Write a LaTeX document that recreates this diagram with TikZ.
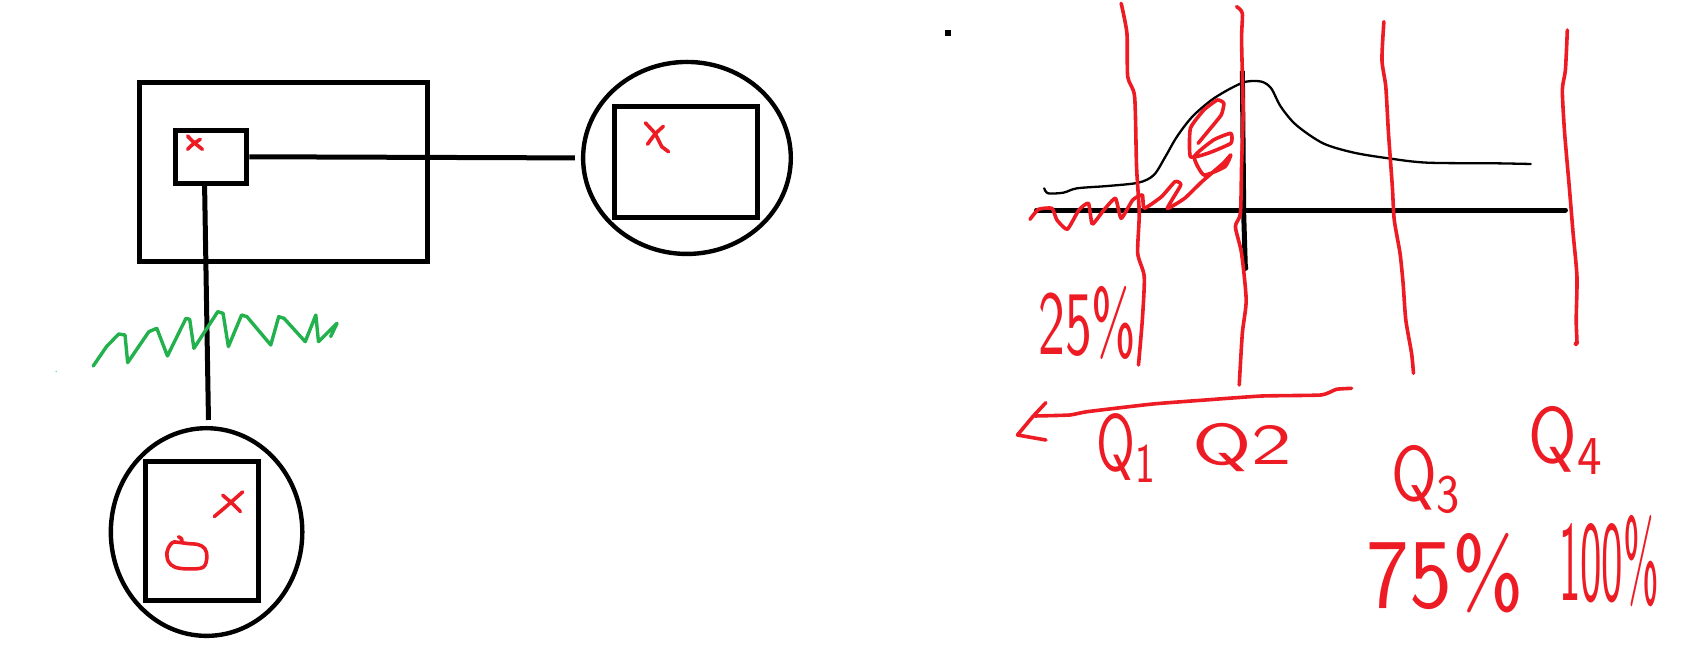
\documentclass[tikz,border=0pt]{standalone}
\usetikzlibrary{shapes.geometric}
\definecolor{pred}{RGB}{237,28,36}
\definecolor{pgreen}{RGB}{34,177,76}
\begin{document}
\begin{tikzpicture}[x=1.0759pt,y=-1.0759pt,
 box/.style={draw=black, line width=5pt, inner sep=0pt, rectangle},
 oval/.style={draw=black, line width=4.4pt, ellipse, inner sep=0pt},
 wire/.style={draw=black, line width=5pt},
 ink/.style={draw=pred, line width=3.6pt, line cap=round, line join=round},
 gink/.style={draw=pgreen, line width=3.4pt, line cap=round, line join=round},
 thinline/.style={draw=black, line width=2.3pt, line cap=round, line join=round},
 lbl/.style={text=pred, inner sep=0pt, font=\sffamily}]
\useasboundingbox (0,0) rectangle (1568,623);

% ---------- left diagram ----------
\node[box, minimum width=287.3pt, minimum height=178.6pt] (big) at (263.5,160) {};
\node[box, minimum width=71.5pt, minimum height=53.4pt] (small) at (196.2,145.7) {};
\node[oval, minimum width=207.7pt, minimum height=192pt] (rell) at (638.5,146.8) {};
\node[box, minimum width=143.1pt, minimum height=111.4pt] (rbox) at (637.5,150.8) {};
\node[oval, minimum width=191.5pt, minimum height=207.7pt] (bell) at (192,494.5) {};
\node[box, minimum width=112.4pt, minimum height=139.3pt] (bbox) at (187.75,493.25) {};

\draw[wire, shorten >=6pt] (small.east) -- (rell.west);
\draw[wire, shorten <=-4pt, shorten >=6pt] ([xshift=-6.5pt]small.south) -- ([xshift=2pt]bell.north);

% green scribble (zoom-1 coordinates)
\begin{scope}[shift={(-2.02,55.77)}, xscale=0.4926, yscale=0.3098]
\draw[gink] (180,918) -- (205,860) -- (228,822) -- (240,825) -- (245,908) -- (285,815) -- (300,805) -- (320,888) -- (355,775) -- (362,778) -- (370,865) -- (415,755) -- (425,760) -- (435,860) -- (460,765) -- (470,770) -- (515,855) -- (530,770) -- (540,775) -- (580,845) -- (600,765) -- (605,845) -- (640,790) -- (628,830);
\fill[pgreen] (110,935) circle (1.4);
% small red x inside the small box
\draw[ink] (358,228) .. controls (368,245) .. (386,268);
\draw[ink] (382,238) .. controls (368,252) .. (358,268);
\end{scope}

% red X in the right box (zoom-5 coordinates)
\begin{scope}[shift={(520.5,46.47)}, xscale=0.3151, yscale=0.3151]
\draw[ink] (252,215) -- (280,245) -- (300,285) -- (320,300);
\draw[ink] (305,225) -- (280,248) -- (258,278);
\end{scope}

% red x and o in the bottom box (zoom-2 coordinates)
\begin{scope}[shift={(83.65,371.78)}, xscale=0.314, yscale=0.314]
\draw[ink] (368,345) -- (400,318) -- (452,272);
\draw[ink] (393,282) -- (420,305) -- (445,330);
\draw[ink] plot[smooth, tension=0.6] coordinates {(262,405) (272,412) (268,422) (250,420) (238,428) (228,450) (232,478) (252,495) (292,500) (335,495) (346,465) (340,440) (320,428) (290,425) (268,422)};
\end{scope}

% ---------- right diagram ----------
\fill (878.5,27.5) rectangle (884,33);

\coordinate (axL) at (963.4,195.2);
\coordinate (axR) at (1455,195.2);
\coordinate (vt) at (1154.7,66);
\coordinate (vb) at (1157.5,249);
\draw[wire, line cap=round] (axL) -- (axR);
\draw[wire] (vt) -- (1156,200) -- (vb);
\fill (vb) circle (2.8);

\begin{scope}[shift={(929.46,0)}, xscale=0.3575, yscale=0.3098]
\draw[thinline] plot[smooth, tension=0.5] coordinates {(115,565) (125,580) (165,578) (200,565) (280,558) (360,548) (400,525) (430,470) (460,410) (500,350) (550,300) (600,265) (640,245) (680,245) (705,265) (730,320) (770,375) (840,430) (920,458) (1010,475) (1110,488) (1290,490) (1380,492)};
% red quartile lines
\draw[ink] plot[smooth, tension=0.4] coordinates {(315,10) (330,100) (332,230) (350,290) (355,500) (362,640) (358,760) (375,830) (370,960) (360,1095)};
\draw[ink] plot[smooth, tension=0.4] coordinates {(615,20) (630,40) (628,120) (632,330) (628,500) (625,640) (612,680) (628,760) (640,900) (630,1000) (622,1155)};
\draw[ink] plot[smooth, tension=0.4] coordinates {(998,65) (993,180) (1003,260) (1010,400) (1020,560) (1025,660) (1040,760) (1048,850) (1055,960) (1070,1060) (1075,1120)};
\draw[ink] plot[smooth, tension=0.4] coordinates {(1475,90) (1470,210) (1462,270) (1468,400) (1480,560) (1490,700) (1500,830) (1498,960) (1500,1030) (1495,1030)};
% red hatching under the curve
\draw[ink] plot[smooth, tension=0.3] coordinates {(78,658) (100,628) (135,625) (148,660) (175,688) (205,630) (230,610) (240,672) (270,630) (300,595) (315,655) (345,600) (370,585) (375,625) (420,590) (455,545) (470,555) (435,625) (480,595) (525,545) (580,490) (600,465) (585,500) (530,525) (505,470) (555,420) (600,400) (600,430) (540,460) (495,470) (495,385) (530,330) (565,300) (582,310) (575,345) (540,395) (515,430)};
\end{scope}

% red arrow (zoom-4 coordinates)
\begin{scope}[shift={(929.46,353.19)}, xscale=0.4059, yscale=0.3098]
\draw[ink] plot[smooth, tension=0.3] coordinates {(805,25) (770,28) (735,45) (600,48) (470,60) (350,72) (200,95) (160,105) (80,108)};
\draw[ink] (105,68) -- (75,110) -- (40,165) -- (105,180);
\end{scope}

% labels
\node[lbl] (p25) at (1010.8,300.5) {\resizebox*{97.9pt}{73.2pt}{25\%}};
\node[lbl] (q1) at (1047.5,416) {\resizebox*{61.3pt}{68.9pt}{Q\textsubscript{1}}};
\node[lbl] (q2) at (1154.5,415.5) {\resizebox*{100pt}{48.4pt}{Q2}};
\node[lbl] (q3) at (1326.5,445.5) {\resizebox*{72.1pt}{67.8pt}{Q\textsubscript{3}}};
\node[lbl] (q4) at (1456.5,409.5) {\resizebox*{76.4pt}{67.8pt}{Q\textsubscript{4}}};
\node[lbl] (p75) at (1343.5,533) {\resizebox*{157.1pt}{79.6pt}{75\%}};
\node[lbl] (p100) at (1495.5,521.5) {\resizebox*{100pt}{91.5pt}{100\%}};
\end{tikzpicture}
\end{document}
